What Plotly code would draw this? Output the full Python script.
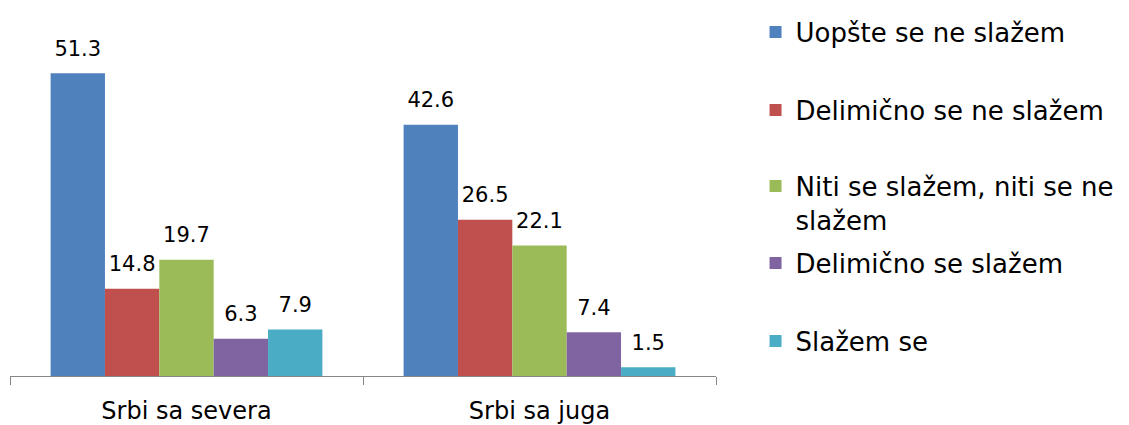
import plotly.graph_objects as go

categories = ["Srbi sa severa", "Srbi sa juga"]
series_names = [
    "Uopšte se ne slažem",
    "Delimično se ne slažem",
    "Niti se slažem, niti se ne<br>slažem",
    "Delimično se slažem",
    "Slažem se",
]
values = [
    [51.3, 42.6],
    [14.8, 26.5],
    [19.7, 22.1],
    [6.3, 7.4],
    [7.9, 1.5],
]
colors = ["#4F81BD", "#C0504D", "#9BBB59", "#8064A2", "#4BACC6"]

FONT = "DejaVu Sans"
W, H = 1129, 425
OFF = 8  # page body margin
ML, MT = 10 - OFF, 22 - OFF
MR = W - (716 - OFF)
MB = H - (376 - OFF)
plot_h = H - MT - MB

legend_px = [32, 110, 203, 263, 341]
legend_names = ["legend", "legend2", "legend3", "legend4", "legend5"]

fig = go.Figure()
for i, (name, vals, col) in enumerate(zip(series_names, values, colors)):
    fig.add_trace(go.Bar(
        x=categories, y=vals, name=name,
        marker=dict(color=col, line=dict(width=0)),
        legend=legend_names[i],
        offsetgroup=str(i),
    ))
for i, vals in enumerate(values):
    fig.add_trace(go.Scatter(
        x=categories, y=vals, mode="markers+text",
        text=[f"{v:.1f}" for v in vals],
        textposition="top center",
        textfont=dict(family=FONT, size=21, color="#000000"),
        marker=dict(size=18, color="rgba(0,0,0,0)"),
        showlegend=False, hoverinfo="skip", cliponaxis=False,
        offsetgroup=str(i),
    ))

layout_legends = {}
for i, ln in enumerate(legend_names):
    ypaper = (H - MB - (legend_px[i] - OFF)) / plot_h
    layout_legends[ln] = dict(
        x=1.056, xanchor="left", y=ypaper, yanchor="middle",
        font=dict(family=FONT, size=26, color="#000000"),
        bgcolor="rgba(0,0,0,0)", borderwidth=0,
        valign="top", itemclick=False, itemdoubleclick=False,
    )

fig.update_layout(
    width=W, height=H,
    margin=dict(l=ML, r=MR, t=MT, b=MB, pad=0, autoexpand=False),
    paper_bgcolor="white", plot_bgcolor="white",
    barmode="group", bargap=0.23, bargroupgap=0,
    scattermode="group", scattergap=0.23,
    showlegend=True,
    **layout_legends,
)
fig.update_xaxes(
    showline=True, linecolor="#868686", linewidth=1,
    ticks="outside", tickson="boundaries", ticklen=8, tickcolor="#868686",
    tickfont=dict(family=FONT, size=24, color="#000000"),
    showgrid=False, zeroline=False, fixedrange=True,
    ticklabelstandoff=13,
)
fig.update_yaxes(visible=False, range=[0, 60], fixedrange=True)

fig.write_html("out.html")
